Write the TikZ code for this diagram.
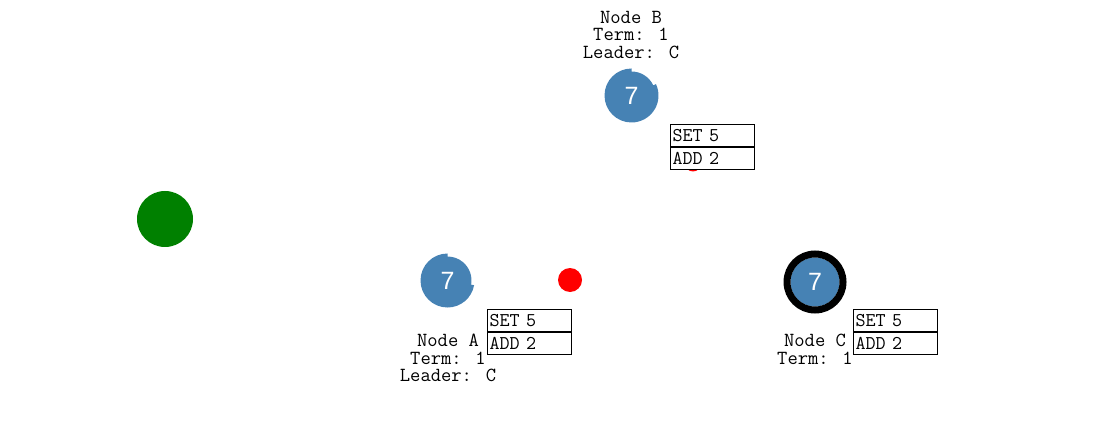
\documentclass[tikz,border=0pt]{standalone}
\usepackage{fontspec}
\newfontfamily\numfont{Liberation Sans}
\definecolor{raftblue}{HTML}{4682B4}
\definecolor{raftgreen}{HTML}{008000}

\tikzset{
  info/.style={align=center, inner sep=0pt, anchor=north, font=\ttfamily\fontsize{20}{17.5}\selectfont},
  logentry/.style={draw, line width=1.2pt, minimum width=84pt, minimum height=22pt,
    text width=80pt, inner sep=2pt, align=left, font=\ttfamily\fontsize{19.5}{19.5}\selectfont},
  termnum/.style={text=white, inner sep=0pt, font=\numfont\fontsize{25}{25}\selectfont},
}

% blue timer circle with a notch cut from #2 to 90 degrees
\newcommand{\timerdisc}[2]{%
  \fill[raftblue] (#1) ++(90:27) arc[start angle=90, end angle=#2+360, radius=27]
    -- ++(#2:-3) arc[start angle=#2, end angle=90, radius=24] -- cycle;
}

\begin{document}
\begin{tikzpicture}[x=1pt, y=1pt]
		\useasboundingbox (0,0) rectangle (1102,426);
		% messages in flight
		\fill[raftgreen] (165,207) circle (28);
		\fill[red] (570,146) circle (12);
		\fill[red] (693,262.5) circle (8);
		% node A
		\coordinate (ca) at (447.5,145.5);
		\timerdisc{ca}{-10}
		\node[termnum] (ta) at (ca) {7};
		\node[info] (infoa) at (448,92) {Node A\\Term: 1\\Leader: C};
		\node[logentry, anchor=north west, fill=white] (seta) at (487,117) {SET 5};
		\node[logentry, anchor=north, fill=white] (adda) at (seta.south) {ADD 2};
		% node B
		\coordinate (cb) at (631.5,330.5);
		\timerdisc{cb}{25}
		\node[termnum] (tb) at (cb) {7};
		\node[info] (infob) at (631,415) {Node B\\Term: 1\\Leader: C};
		\node[logentry, anchor=north west, fill=white] (setb) at (670,302) {SET 5};
		\node[logentry, anchor=north, fill=white] (addb) at (setb.south) {ADD 2};
		% node C (leader)
		\coordinate (cc) at (815,144);
		\fill[raftblue] (cc) circle (24.5);
		\draw[line width=7pt] (cc) circle (28);
		\node[termnum] (tc) at (cc) {7};
		\node[info] (infoc) at (815,92) {Node C\\Term: 1};
		\node[logentry, anchor=north west, fill=white] (setc) at (853,117) {SET 5};
		\node[logentry, anchor=north, fill=white] (addc) at (setc.south) {ADD 2};
\end{tikzpicture}
\end{document}
